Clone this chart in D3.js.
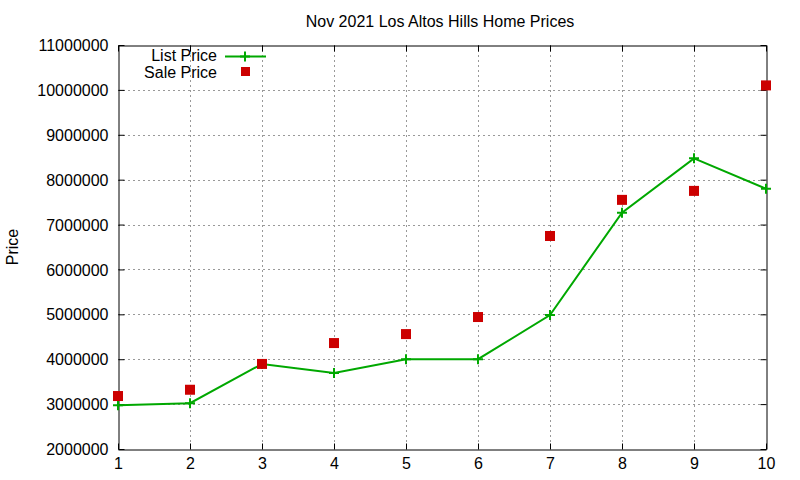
<!DOCTYPE html>
<html>
<head>
<meta charset="utf-8">
<script src="https://cdn.jsdelivr.net/npm/d3@7"></script>
<style>
  body { margin: 0; background: #fff; }
  text { font-family: "Liberation Sans", Arial, sans-serif; fill: #000; }
</style>
</head>
<body>
<svg id="chart" width="800" height="480"></svg>
<script>
const months = [1, 2, 3, 4, 5, 6, 7, 8, 9, 10]
const listPrice = [2975000, 3020000, 3895000, 3695000, 4000000, 4000000, 4985000, 7265000, 8475000, 7800000]
const salePrice = [3180000, 3320000, 3895000, 4360000, 4560000, 4940000, 6745000, 7550000, 7750000, 10100000]
const yTicks = [2000000, 3000000, 4000000, 5000000, 6000000, 7000000, 8000000, 9000000, 10000000, 11000000]

const margin = { left: 118, top: 45, right: 34, bottom: 31 }
const width = 800, height = 480
const svg = d3.select("#chart")

const x = d3.scaleLinear().domain([1, 10]).range([margin.left, width - margin.right])
const y = d3.scaleLinear().domain([2000000, 11000000]).range([height - margin.bottom, margin.top])

const green = "#00a800", red = "#cc0000"
const fs = "16px"

// grid
const grid = svg.append("g").attr("stroke", "#999").attr("stroke-dasharray", "2,3").attr("stroke-width", 1)
grid.selectAll(".gx").data(months.slice(1, -1)).join("line")
  .attr("x1", d => x(d) + 0.5).attr("x2", d => x(d) + 0.5)
  .attr("y1", y.range()[1]).attr("y2", y.range()[0])
grid.selectAll(".gy").data(yTicks.slice(1, -1)).join("line")
  .attr("y1", d => Math.round(y(d)) + 0.5).attr("y2", d => Math.round(y(d)) + 0.5)
  .attr("x1", x.range()[0]).attr("x2", x.range()[1])

// axes, ticks pointing inward on all four sides
const fmt = d3.format("d")
const axL = svg.append("g").attr("transform", `translate(${x.range()[0] + 0.5},0)`)
  .call(d3.axisLeft(y).tickValues(yTicks).tickFormat(fmt).tickSizeInner(-6).tickSizeOuter(0).tickPadding(10))
const axR = svg.append("g").attr("transform", `translate(${x.range()[1] + 0.5},0)`)
  .call(d3.axisRight(y).tickValues(yTicks).tickFormat("").tickSizeInner(-6).tickSizeOuter(0))
const axB = svg.append("g").attr("transform", `translate(0,${y.range()[0] + 0.5})`)
  .call(d3.axisBottom(x).tickValues(months).tickFormat(fmt).tickSizeInner(-6).tickSizeOuter(0).tickPadding(10))
const axT = svg.append("g").attr("transform", `translate(0,${y.range()[1] + 0.5})`)
  .call(d3.axisTop(x).tickValues(months).tickFormat("").tickSizeInner(-6).tickSizeOuter(0))
;[axL, axR, axB, axT].forEach(a => {
  a.selectAll("text").style("font-size", fs).attr("font-family", null)
  a.selectAll("line, path").attr("stroke", "#000")
  a.select(".domain").attr("stroke-width", 1)
})
axL.selectAll("text").attr("dy", "0.35em")
axB.selectAll("text").attr("dy", "0.62em")

// list price line
svg.append("path")
  .datum(months.map((m, i) => [m, listPrice[i]]))
  .attr("fill", "none").attr("stroke", green).attr("stroke-width", 2)
  .attr("d", d3.line().x(d => x(d[0])).y(d => y(d[1])))

svg.append("g").selectAll("path").data(months).join("path")
  .attr("transform", (d, i) => `translate(${x(d)},${y(listPrice[i])})`)
  .attr("d", "M-5,0H5M0,-5V5")
  .attr("stroke", green).attr("stroke-width", 2)

// sale price squares
svg.append("g").selectAll("rect").data(months).join("rect")
  .attr("x", d => x(d) - 5).attr("y", (d, i) => y(salePrice[i]) - 5)
  .attr("width", 10).attr("height", 10).attr("fill", red)

// legend
const lg = svg.append("g")
lg.append("text").attr("x", 217).attr("y", 55).attr("dy", "0.35em").attr("text-anchor", "end")
  .style("font-size", fs).text("List Price")
lg.append("line").attr("x1", 225).attr("x2", 266).attr("y1", 56.5).attr("y2", 56.5)
  .attr("stroke", green).attr("stroke-width", 2)
lg.append("path").attr("transform", "translate(245,56.5)").attr("d", "M-5,0H5M0,-5V5")
  .attr("stroke", green).attr("stroke-width", 2)
lg.append("text").attr("x", 217).attr("y", 72).attr("dy", "0.35em").attr("text-anchor", "end")
  .style("font-size", fs).text("Sale Price")
lg.append("rect").attr("x", 241).attr("y", 67).attr("width", 9).attr("height", 9).attr("fill", red)

// title and y label
svg.append("text").attr("x", 440).attr("y", 21).attr("dy", "0.35em").attr("text-anchor", "middle")
  .style("font-size", fs).text("Nov 2021 Los Altos Hills Home Prices")
svg.append("text").attr("transform", "translate(12,247) rotate(-90)").attr("dy", "0.35em")
  .attr("text-anchor", "middle").style("font-size", fs).text("Price")
</script>
</body>
</html>
